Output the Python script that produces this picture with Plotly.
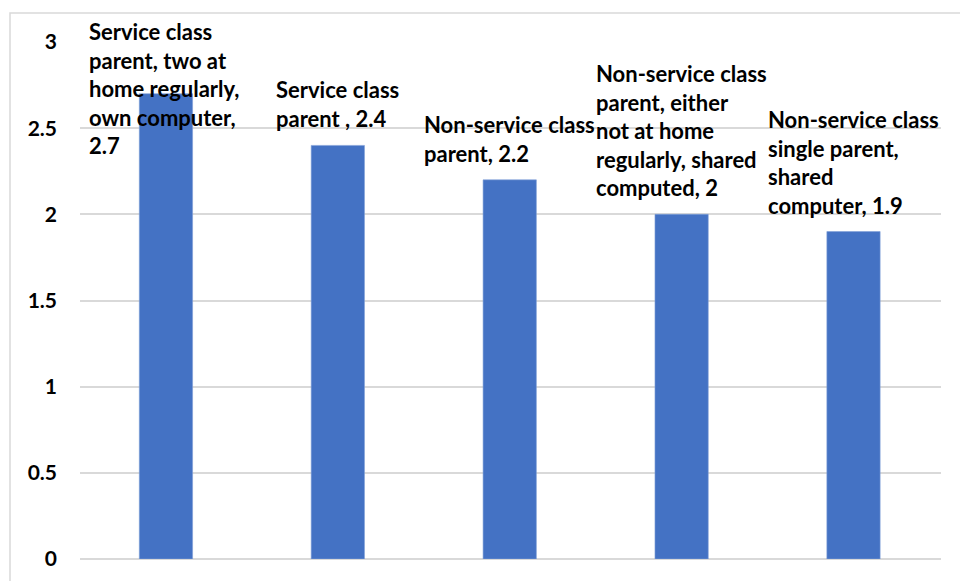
import plotly.graph_objects as go

categories = [
    "Service class parent, two at home regularly, own computer",
    "Service class parent ",
    "Non-service class parent",
    "Non-service class parent, either not at home regularly, shared computed",
    "Non-service class single parent, shared computer",
]
values = [2.7, 2.4, 2.2, 2.0, 1.9]
label_lines = [
    ["Service class", "parent, two at", "home regularly,", "own computer,", "2.7"],
    ["Service class", "parent , 2.4"],
    ["Non-service class", "parent, 2.2"],
    ["Non-service class", "parent, either", "not at home", "regularly, shared", "computed, 2"],
    ["Non-service class", "single parent,", "shared", "computer, 1.9"],
]
tick_vals = [0, 0.5, 1, 1.5, 2, 2.5, 3]
tick_text = ["0", "0.5", "1", "1.5", "2", "2.5", "3"]

FONT = "Lato"
LBL = 22
fig = go.Figure()
fig.add_trace(go.Bar(
    x=categories, y=values,
    marker=dict(color="#4472C4", line=dict(color="#7f9fd6", width=0.6)),
    width=0.31,
    hoverinfo="skip",
))

x_shifts = [-2, 0, 0, 0, 0]
for i, (cat, val, lines) in enumerate(zip(categories, values, label_lines)):
    txt = "<br>".join(lines)
    if i == 0:
        fig.add_annotation(x=cat, y=1.05, yref="paper", xref="x", text=txt,
                           showarrow=False, align="left", xanchor="center",
                           yanchor="top", xshift=x_shifts[i],
                           font=dict(family=FONT, size=LBL, color="black", weight="bold"))
    else:
        fig.add_annotation(x=cat, y=val, text=txt, showarrow=False, align="left",
                           xanchor="center", yanchor="bottom", yshift=11,
                           xshift=x_shifts[i],
                           font=dict(family=FONT, size=LBL, color="black", weight="bold"))

fig.add_shape(type="rect", xref="paper", yref="paper",
              x0=(10 - 80) / 861, x1=1.2, y0=-0.2, y1=1 + (42 - 13) / 517,
              line=dict(color="#D9D9D9", width=1.5), fillcolor="rgba(0,0,0,0)",
              layer="below")

fig.update_layout(
    width=960, height=581,
    margin=dict(l=80, r=19, t=42, b=22),
    paper_bgcolor="white", plot_bgcolor="white",
    showlegend=False,
    xaxis=dict(showticklabels=False, showgrid=False, zeroline=False,
               showline=False, ticks=""),
    yaxis=dict(range=[0, 3], tickvals=tick_vals, ticktext=tick_text,
               showgrid=True, gridcolor="#D9D9D9", gridwidth=1.5,
               zeroline=True, zerolinecolor="#D9D9D9", zerolinewidth=1.5,
               showline=False, ticks="", ticklabelstandoff=22,
               tickfont=dict(family=FONT, size=21, color="black", weight="bold")),
)

fig.write_html("out.html", config={"displayModeBar": False},
               post_script="document.body.style.margin='0';document.body.style.padding='0';")
